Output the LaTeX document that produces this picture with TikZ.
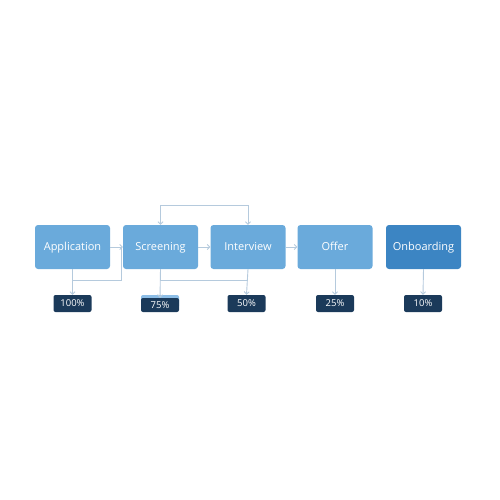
\documentclass[tikz,border=0pt]{standalone}
\usepackage{fontspec}
\setmainfont{Open Sans}
\usetikzlibrary{arrows.meta}
\definecolor{boxblue}{HTML}{6AAADB}
\definecolor{darkblue}{HTML}{3C85C3}
\definecolor{navy}{HTML}{1B3A5A}
\definecolor{stripblue}{HTML}{8CBDE6}
\definecolor{conn}{HTML}{B5CADD}
\tikzset{
  stage/.style={rectangle, rounded corners=3pt, fill=boxblue, minimum width=75pt, minimum height=44pt, text=white, inner sep=0pt, text height=7.9pt, text depth=0pt, font=\fontsize{11}{13}\selectfont},
  pct/.style={rectangle, rounded corners=2pt, fill=navy, minimum width=38pt, minimum height=17pt, text=white, inner sep=0pt, text height=6.8pt, text depth=0pt, font=\fontsize{9.5}{11}\selectfont},
  link/.style={draw=conn, line width=0.9pt},
  arr/.style={link, -{Straight Barb[length=2.5pt,width=5pt]}},
}
\begin{document}
\begin{tikzpicture}[x=1pt,y=-1pt]
\useasboundingbox (0,0) rectangle (500,500);
\node[stage] (app) at (72.5,247) {Application};
\node[stage] (scr) at (160.5,247) {Screening};
\node[stage] (int) at (248,247) {Interview};
\node[stage] (off) at (335,247) {Offer};
\node[stage, fill=darkblue] (onb) at (423.5,247) {Onboarding};
\fill[stripblue, rounded corners=2pt] (141,295) rectangle (179,308);
\node[pct] (l1) at (72.5,303.5) {100\%};
\node[pct, minimum height=14pt] (l2) at (160,305) {75\%};
\node[pct] (l3) at (246.5,303.5) {50\%};
\node[pct] (l4) at (335,303.5) {25\%};
\node[pct] (l5) at (423,303.5) {10\%};
\coordinate (t1) at (160.5,205);
\coordinate (b1) at (121,280);
\coordinate (b2) at (72.5,280);
\coordinate (b3) at (160.5,280);
\coordinate (b4) at (248,280);
% top loop
\draw[arr] (t1) -- (scr.north);
\draw[arr] (t1) -| (int.north);
% horizontal flow
\draw[arr] (app.east) -- (scr.west);
\draw[arr] (scr.east) -- (int.west);
\draw[arr] (int.east) -- (off.west);
% bottom links
\draw[link] (b2) -- (b1) -- (121,247);
\draw[link] (b3) -- (b4);
\draw[arr] (app.south) -- (l1.north);
\draw[arr] (scr.south) -- (l2.north);
\draw[arr] (int.south) -- (l3.north);
\draw[arr] (off.south) -- (l4.north);
\draw[arr] (onb.south) -- (l5.north);
\end{tikzpicture}
\end{document}
